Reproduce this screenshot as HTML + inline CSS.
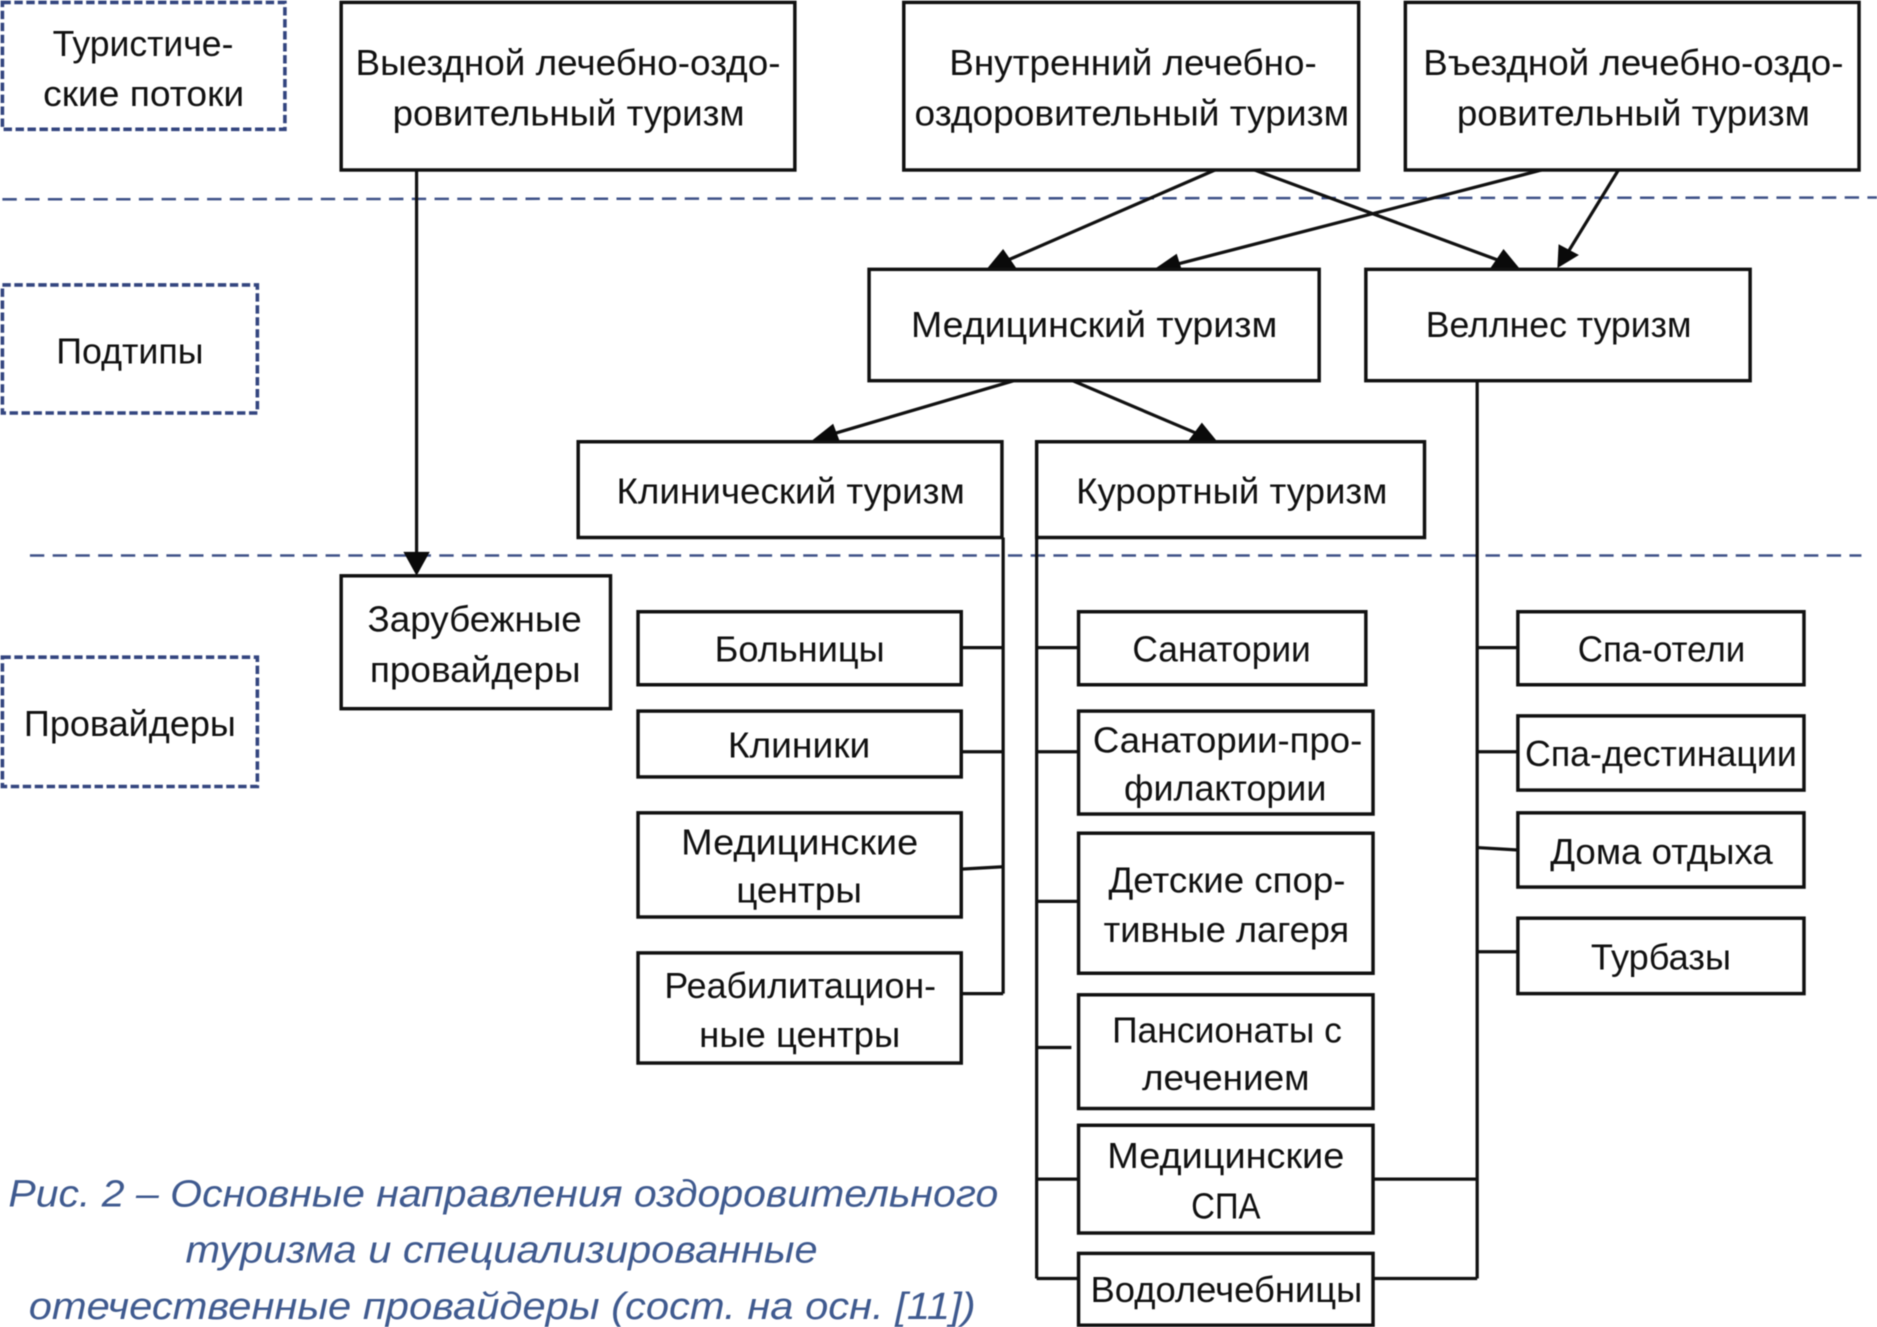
<!DOCTYPE html>
<html lang="ru"><head><meta charset="utf-8"><title>Основные направления оздоровительного туризма</title>
<style>html,body{margin:0;padding:0;background:#fff}svg{display:block;filter:blur(.45px)}
text{font-family:"Liberation Sans",sans-serif;font-size:30px;fill:#111}
.c{font-style:italic;font-size:32px;fill:#3f5a8f}
.b{fill:#fff;stroke:#111;stroke-width:2.9}
.d{fill:none;stroke:#33457f;stroke-width:3;stroke-dasharray:7 3}
.h{stroke:#3f5288;stroke-width:2.1;stroke-dasharray:12 7;fill:none}
.l{stroke:#111;stroke-width:2.7;fill:none}
.a{fill:#0a0a0a}</style></head><body>
<svg xmlns="http://www.w3.org/2000/svg" width="1877" height="1327" viewBox="0 0 1568 1108.5" preserveAspectRatio="none">
<rect width="1568" height="1108.5" fill="#fff"/>
<path class="h" d="M2 166.500L1568 165"/><path class="h" d="M25 464H1555"/>
<g class="d"><rect x="2" y="2" width="236" height="106"/><rect x="2" y="238" width="213" height="107"/><rect x="2" y="549" width="213" height="108"/></g>
<g class="l">
<path d="M348 142V468"/>
<path d="M1015 142L838 219"/><path d="M1048 142L1256 219"/><path d="M1288 142L982 221"/><path d="M1352 142L1309 212"/>
<path d="M847 318L694 363"/><path d="M896 318L1002 363"/>
<path d="M838 449V830"/><path d="M803 541H838M803 628H838M803 726L838 724M803 830H838"/>
<path d="M866 449V1068"/><path d="M866 541H901M866 628H901M866 753H901M866 875H895M866 985H901M866 1068H901"/>
<path d="M1234 318V1068"/><path d="M1234 541H1268M1234 628H1268M1234 708L1268 710M1234 795H1268M1147 985H1234M1147 1068H1234"/>
</g>
<g class="a">
<polygon points="348,481 337,461 359,461"/>
<polygon points="824,225 838,208 849,224"/>
<polygon points="1270,225 1245,224 1256,208"/>
<polygon points="964,225 983,212 988,228"/>
<polygon points="1301,224 1302,204 1319,213"/>
<polygon points="677,369 696,354 702,370"/>
<polygon points="1017,369 992,369 1004,353"/>
</g>
<g class="b">
<rect x="285" y="2" width="379" height="140"/><rect x="755" y="2" width="380" height="140"/><rect x="1174" y="2" width="379" height="140"/>
<rect x="726" y="225" width="376" height="93"/><rect x="1141" y="225" width="321" height="93"/>
<rect x="483" y="369" width="354" height="80"/><rect x="866" y="369" width="324" height="80"/>
<rect x="285" y="481" width="225" height="111"/>
<rect x="533" y="511" width="270" height="61"/><rect x="533" y="594" width="270" height="55"/><rect x="533" y="679" width="270" height="87"/><rect x="533" y="796" width="270" height="92"/>
<rect x="901" y="511" width="240" height="61"/><rect x="901" y="594" width="246" height="86"/><rect x="901" y="696" width="246" height="117"/><rect x="901" y="831" width="246" height="95"/><rect x="901" y="940" width="246" height="90"/><rect x="901" y="1047" width="246" height="60"/>
<rect x="1268" y="511" width="239" height="61"/><rect x="1268" y="598" width="239" height="62"/><rect x="1268" y="679" width="239" height="62"/><rect x="1268" y="767" width="239" height="63"/>
</g>
<g transform="translate(0,-0.3)">
<text x="44" y="47" textLength="151" lengthAdjust="spacingAndGlyphs">Туристиче-</text>
<text x="36" y="89" textLength="168" lengthAdjust="spacingAndGlyphs">ские потоки</text>
<text x="47" y="304" textLength="123" lengthAdjust="spacingAndGlyphs">Подтипы</text>
<text x="20" y="615" textLength="177" lengthAdjust="spacingAndGlyphs">Провайдеры</text>
<text x="297" y="63" textLength="355" lengthAdjust="spacingAndGlyphs">Выездной лечебно-оздо-</text>
<text x="328" y="105" textLength="294" lengthAdjust="spacingAndGlyphs">ровительный туризм</text>
<text x="793" y="63" textLength="307" lengthAdjust="spacingAndGlyphs">Внутренний лечебно-</text>
<text x="764" y="105" textLength="363" lengthAdjust="spacingAndGlyphs">оздоровительный туризм</text>
<text x="1189" y="63" textLength="351" lengthAdjust="spacingAndGlyphs">Въездной лечебно-оздо-</text>
<text x="1217" y="105" textLength="295" lengthAdjust="spacingAndGlyphs">ровительный туризм</text>
<text x="761" y="282" textLength="306" lengthAdjust="spacingAndGlyphs">Медицинский туризм</text>
<text x="1191" y="282" textLength="222" lengthAdjust="spacingAndGlyphs">Веллнес туризм</text>
<text x="515" y="421" textLength="291" lengthAdjust="spacingAndGlyphs">Клинический туризм</text>
<text x="899" y="421" textLength="260" lengthAdjust="spacingAndGlyphs">Курортный туризм</text>
<text x="307" y="528" textLength="179" lengthAdjust="spacingAndGlyphs">Зарубежные</text>
<text x="309" y="570" textLength="176" lengthAdjust="spacingAndGlyphs">провайдеры</text>
<text x="597" y="553" textLength="142" lengthAdjust="spacingAndGlyphs">Больницы</text>
<text x="608" y="633" textLength="119" lengthAdjust="spacingAndGlyphs">Клиники</text>
<text x="569" y="714" textLength="198" lengthAdjust="spacingAndGlyphs">Медицинские</text>
<text x="615" y="754" textLength="105" lengthAdjust="spacingAndGlyphs">центры</text>
<text x="555" y="834" textLength="227" lengthAdjust="spacingAndGlyphs">Реабилитацион-</text>
<text x="584" y="875" textLength="168" lengthAdjust="spacingAndGlyphs">ные центры</text>
<text x="946" y="553" textLength="149" lengthAdjust="spacingAndGlyphs">Санатории</text>
<text x="913" y="629" textLength="225" lengthAdjust="spacingAndGlyphs">Санатории-про-</text>
<text x="939" y="669" textLength="169" lengthAdjust="spacingAndGlyphs">филактории</text>
<text x="926" y="746" textLength="198" lengthAdjust="spacingAndGlyphs">Детские спор-</text>
<text x="922" y="787" textLength="205" lengthAdjust="spacingAndGlyphs">тивные лагеря</text>
<text x="929" y="871" textLength="192" lengthAdjust="spacingAndGlyphs">Пансионаты с</text>
<text x="954" y="911" textLength="140" lengthAdjust="spacingAndGlyphs">лечением</text>
<text x="925" y="976" textLength="198" lengthAdjust="spacingAndGlyphs">Медицинские</text>
<text x="995" y="1018" textLength="58" lengthAdjust="spacingAndGlyphs">СПА</text>
<text x="911" y="1088" textLength="227" lengthAdjust="spacingAndGlyphs">Водолечебницы</text>
<text x="1318" y="553" textLength="140" lengthAdjust="spacingAndGlyphs">Спа-отели</text>
<text x="1274" y="640" textLength="227" lengthAdjust="spacingAndGlyphs">Спа-дестинации</text>
<text x="1295" y="722" textLength="186" lengthAdjust="spacingAndGlyphs">Дома отдыха</text>
<text x="1329" y="810" textLength="117" lengthAdjust="spacingAndGlyphs">Турбазы</text>
<text class="c" x="7" y="1008" textLength="827" lengthAdjust="spacingAndGlyphs">Рис. 2 – Основные направления оздоровительного</text>
<text class="c" x="155" y="1055" textLength="528" lengthAdjust="spacingAndGlyphs">туризма и специализированные</text>
<text class="c" x="24" y="1102" textLength="791" lengthAdjust="spacingAndGlyphs">отечественные провайдеры (сост. на осн. [11])</text>
</g>
</svg>
</body></html>
